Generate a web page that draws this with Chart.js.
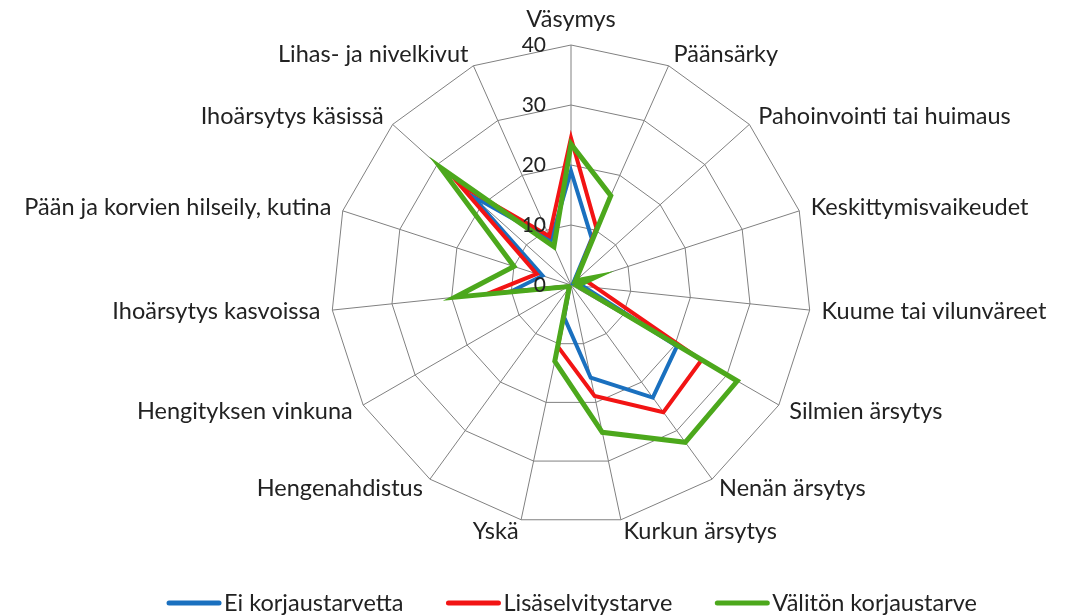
<!DOCTYPE html>
<html>
<head>
<meta charset="utf-8">
<script src="https://cdn.jsdelivr.net/npm/chart.js@4"></script>
<style>
  html, body { margin: 0; padding: 0; background: #fff; overflow: hidden; }
  #wrap { width: 1079px; height: 615px; }
</style>
</head>
<body>
<div id="wrap"><canvas id="radar"></canvas></div>
<script>
const categories = [
    'Väsymys', 'Päänsärky', 'Pahoinvointi tai huimaus', 'Keskittymisvaikeudet',
    'Kuume tai vilunväreet', 'Silmien ärsytys', 'Nenän ärsytys', 'Kurkun ärsytys',
    'Yskä', 'Hengenahdistus', 'Hengityksen vinkuna', 'Ihoärsytys kasvoissa',
    'Pään ja korvien hilseily, kutina', 'Ihoärsytys käsissä', 'Lihas- ja nivelkivut'
];
const seriesNames = ['Ei korjaustarvetta', 'Lisäselvitystarve', 'Välitön korjaustarve'];
const eiKorjaus = [19, 8.5, 0.5, 1.5, 2, 20.4, 23.2, 15.8, 5.5, 0.5, 0.5, 10, 5, 22.2, 8.2];
const lisaselvitys = [24.5, 10.4, 1, 2.5, 4.2, 25.1, 26.2, 18.9, 10.5, 0.5, 0.5, 14, 6, 25, 8.9];
const valiton = [23.5, 16.3, 1, 4.2, 1, 32, 32.4, 25.1, 13, 0.5, 0.5, 19.4, 10, 29.3, 7];
const tickValues = [0, 10, 20, 30, 40];

const colors = ['#1a70bf', '#f21414', '#4ca81c'];
const FONT = 'Lato, "DejaVu Sans", sans-serif';

// Chart.js skips the 0 tick on radar scales, so draw tick labels ourselves
const tickLabelPlugin = {
    id: 'tickLabels',
    afterDatasetsDraw(chart) {
        const scale = chart.scales.r;
        const ctx = chart.ctx;
        ctx.save();
        ctx.font = '21px ' + FONT;
        ctx.fillStyle = '#222';
        ctx.textAlign = 'right';
        ctx.textBaseline = 'middle';
        tickValues.forEach(v => {
            const d = scale.getDistanceFromCenterForValue(v);
            ctx.fillText(String(v), scale.xCenter - 25, scale.yCenter - d);
        });
        ctx.restore();
    }
};

// category labels placed the Excel way: vertically centred just outside each spoke
const pointLabelPlugin = {
    id: 'spokeLabels',
    afterDraw(chart) {
        const scale = chart.scales.r;
        const ctx = chart.ctx;
        ctx.save();
        ctx.font = '23.5px ' + FONT;
        ctx.fillStyle = '#222';
        ctx.textBaseline = 'middle';
        categories.forEach((label, i) => {
            const p = scale.getPointPosition(i, scale.drawingArea + 12);
            const sx = p.x - scale.xCenter;
            let y = p.y;
            if (Math.abs(sx) < 1) {
                ctx.textAlign = 'center';
                y -= 14;
            } else {
                ctx.textAlign = sx > 0 ? 'left' : 'right';
            }
            ctx.fillText(label, p.x, y);
        });
        ctx.restore();
    }
};

// legend like the original: short thick line, text right after it
const legendPlugin = {
    id: 'bottomLegend',
    afterDraw(chart) {
        const ctx = chart.ctx;
        const lineW = 54, gap = 3, itemGap = 43, y = 603, centerX = 572;
        ctx.save();
        ctx.font = '23.5px ' + FONT;
        ctx.textBaseline = 'middle';
        const items = chart.data.datasets.map(ds => ({
            text: ds.label, color: ds.borderColor, w: ctx.measureText(ds.label).width
        }));
        const total = items.reduce((s, it) => s + lineW + gap + it.w, 0) + itemGap * (items.length - 1);
        let x = centerX - total / 2;
        items.forEach(it => {
            ctx.strokeStyle = it.color;
            ctx.lineWidth = 5;
            ctx.lineCap = 'round';
            ctx.beginPath();
            ctx.moveTo(x + 2, y);
            ctx.lineTo(x + lineW - 2, y);
            ctx.stroke();
            ctx.fillStyle = '#222';
            ctx.fillText(it.text, x + lineW + gap, y);
            x += lineW + gap + it.w + itemGap;
        });
        ctx.restore();
    }
};

new Chart(document.getElementById('radar'), {
    type: 'radar',
    data: {
        labels: categories,
        datasets: [eiKorjaus, lisaselvitys, valiton].map((vals, i) => ({
            label: seriesNames[i],
            data: vals,
            borderColor: colors[i],
            backgroundColor: colors[i],
            borderWidth: i === 2 ? 5 : 4,
            pointRadius: 0,
            fill: false,
            tension: 0,
            order: 2 - i
        }))
    },
    options: {
        responsive: true,
        maintainAspectRatio: false,
        animation: false,
        layout: { padding: { top: 45, right: 268, bottom: 90, left: 331 } },
        scales: {
            r: {
                min: 0,
                max: 40,
                ticks: { display: false, stepSize: 10 },
                grid: { color: '#808080', lineWidth: 1 },
                angleLines: { color: '#808080', lineWidth: 1 },
                pointLabels: { display: false }
            }
        },
        plugins: {
            legend: { display: false },
            tooltip: { enabled: false }
        }
    },
    plugins: [tickLabelPlugin, pointLabelPlugin, legendPlugin]
});
</script>
</body>
</html>
